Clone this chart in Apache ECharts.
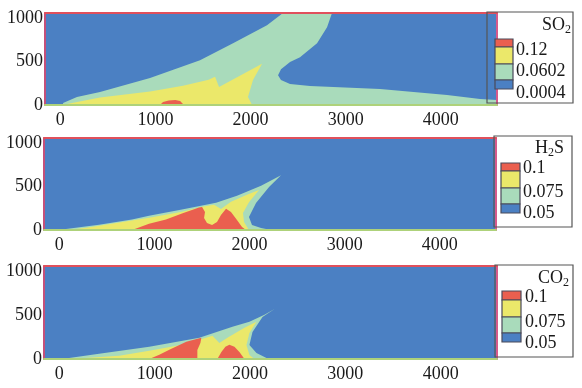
<!DOCTYPE html>
<html>
<head>
<meta charset="utf-8">
<script src="https://cdn.jsdelivr.net/npm/echarts@6/dist/echarts.min.js"></script>
<style>html,body{margin:0;padding:0;background:#fff}#c{width:582px;height:388px}</style>
</head>
<body>
<div id="c"></div>
<script>
// ---- axis ticks ----
const xTicks = [0, 1000, 2000, 3000, 4000];
const yTicks = [0, 500, 1000];
const xRange = [-160, 4590];
const yRange = [0, 1060];

// ---- SO2 contour boundaries [x, height] ----
const so2Green = [[30,0],[30,23],[176,92],[418,149],[944,310],[1469,517],[1816,712],[2173,918],[2341,1060],
  [2856,1060],[2804,895],[2699,712],[2520,551],[2415,494],[2320,413],[2289,344],[2320,287],[2415,241],
  [2625,218],[3361,184],[4065,115],[4412,69],[4590,57],[4590,0]];
const so2Yellow = [[50,0],[71,11],[418,85],[944,155],[1290,222],[1560,292],[1627,325],[1669,207],[2121,475],
  [2026,287],[1973,92],[2016,0]];
const so2Red = [[1049,0],[1080,34],[1140,52],[1210,57],[1260,46],[1300,0]];
const so2Levels = ['0.12', '0.0602', '0.0004'];

// ---- H2S ----
const h2sGreen = [[60,0],[71,11],[418,60],[765,120],[944,165],[1290,235],[1648,315],[1868,395],[2121,510],[2331,631],
  [2205,494],[2068,310],[1994,149],[2026,57],[2121,23],[2226,0]];
const h2sYellow = [[90,0],[282,25],[418,50],[944,142],[1290,210],[1501,268],[1627,290],[1700,241],[1805,325],
  [1973,405],[2100,462],[1994,321],[1931,195],[1942,92],[1994,0]];
const h2sRed = [[765,0],[944,72],[1122,120],[1290,190],[1469,258],[1501,266],[1532,207],[1522,138],[1553,80],
  [1606,57],[1658,92],[1700,172],[1753,245],[1805,207],[1868,115],[1921,34],[1963,0]];
const h2sLevels = ['0.1', '0.075', '0.05'];

// ---- CO2 ----
const co2Green = [[70,0],[103,11],[418,60],[944,140],[1469,242],[1816,368],[1994,425],[2152,505],[2257,570],
  [2131,479],[2026,308],[1994,160],[2068,68],[2173,11],[2200,0]];
const co2Yellow = [[105,0],[628,36],[944,94],[1290,163],[1469,220],[1606,265],[1679,182],[1763,242],[1942,356],
  [2068,425],[1994,296],[1963,160],[1994,46],[2047,0]];
const co2Red1 = [[944,0],[1049,48],[1154,106],[1332,198],[1490,242],[1480,182],[1448,103],[1448,0]];
const co2Red2 = [[1658,0],[1700,80],[1742,140],[1784,162],[1837,140],[1889,80],[1942,0]];
const co2Levels = ['0.1', '0.075', '0.05'];

const C = {blue:'#4b80c3', green:'#a9dbbb', yellow:'#ebe86a', red:'#ea5f4f'};
const FONT = 'Liberation Serif';
const FS = 18;

const grids = [
  {left:45, top:13, width:452, height:92},
  {left:44, top:138, width:452, height:92},
  {left:44, top:266, width:453, height:93}
];

const xAxes = [], yAxes = [];
grids.forEach((g, i) => {
  g.show = true; g.backgroundColor = C.blue; g.borderWidth = 0;
  xAxes.push({type:'value', gridIndex:i, min:xRange[0], max:xRange[1], position:'bottom', z:5,
    axisLine:{onZero:false, lineStyle:{color:'#aed27a', width:2}}, axisTick:{show:false}, splitLine:{show:false},
    axisLabel:{margin:6, fontFamily:FONT, fontSize:FS, color:'#1a1a1a',
      formatter: v => xTicks.includes(v) ? String(v) : ''}});
  xAxes.push({type:'value', gridIndex:i, min:xRange[0], max:xRange[1], position:'top', z:5,
    axisLine:{onZero:false, lineStyle:{color:'#e0505c', width:2}}, axisTick:{show:false}, splitLine:{show:false}, axisLabel:{show:false}});
  yAxes.push({type:'value', gridIndex:i, min:yRange[0], max:yRange[1], interval:500, position:'left', z:5,
    axisLine:{onZero:false, lineStyle:{color:'#c4507a', width:2}}, axisTick:{show:false}, splitLine:{show:false},
    axisLabel:{margin:2, fontFamily:FONT, fontSize:FS, color:'#1a1a1a',
      formatter: v => yTicks.includes(v) ? String(v) : ''}});
  yAxes.push({type:'value', gridIndex:i, min:yRange[0], max:yRange[1], position:'right', z:5,
    axisLine:{onZero:false, lineStyle:{color:'#d65a8c', width:2}}, axisTick:{show:false}, splitLine:{show:false}, axisLabel:{show:false}});
});

function poly(panel, pts, color) {
  return {type:'custom', xAxisIndex:panel*2, yAxisIndex:panel*2, clip:true, silent:true, data:pts,
    renderItem:(params, api) => {
      if (params.dataIndex !== 0) return null;
      return {type:'polygon', shape:{points: pts.map(p => api.coord(p))}, style:{fill:color}};
    }};
}

const series = [
  poly(0, so2Green, C.green), poly(0, so2Yellow, C.yellow), poly(0, so2Red, C.red),
  poly(1, h2sGreen, C.green), poly(1, h2sYellow, C.yellow), poly(1, h2sRed, C.red),
  poly(2, co2Green, C.green), poly(2, co2Yellow, C.yellow), poly(2, co2Red1, C.red), poly(2, co2Red2, C.red)
];

// ---- legends ----
function legend(box, sw, title, levels) {
  const els = [];
  els.push({type:'rect', shape:{x:box[0], y:box[1], width:box[2], height:box[3]},
    style:{fill:null, stroke:'#555', lineWidth:1.2}, z:20});
  const cols = [C.red, C.yellow, C.green, C.blue];
  let y = sw.y;
  sw.h.forEach((h, k) => {
    els.push({type:'rect', shape:{x:sw.x, y:y, width:sw.w, height:h},
      style:{fill:cols[k], stroke:'#4a4a5a', lineWidth:1.2}, z:21});
    y += h;
  });
  els.push({type:'text', x:title.x, y:title.y, z:22,
    style:{text:title.text, textAlign:'right', textVerticalAlign:'middle', fill:'#1a1a1a',
      rich:{a:{fontFamily:FONT, fontSize:FS, fill:'#1a1a1a'}, b:{fontFamily:FONT, fontSize:12, fill:'#1a1a1a', padding:[9,0,0,0]}}}});
  levels.forEach((t, k) => {
    els.push({type:'text', x:sw.lx, y:sw.ly[k], z:22,
      style:{text:t, textAlign:'left', textVerticalAlign:'middle', fontFamily:FONT, fontSize:FS, fill:'#1a1a1a'}});
  });
  return els;
}

const graphic = [].concat(
  legend([487,12,86,91], {x:495, y:39, w:18, h:[8,17,16,9], lx:516, ly:[50,71,93]}, {x:571, y:25, text:'{a|SO}{b|2}'}, so2Levels),
  legend([494,136,78,91], {x:501, y:163, w:19, h:[8,17,16,9], lx:523, ly:[168,192,213]}, {x:564, y:148, text:'{a|H}{b|2}{a|S}'}, h2sLevels),
  legend([495,265,78,92], {x:502, y:291, w:19, h:[9,17,16,9], lx:525, ly:[297,322,343]}, {x:569, y:278, text:'{a|CO}{b|2}'}, co2Levels)
);

const chart = echarts.init(document.getElementById('c'), null, {renderer:'canvas'});
chart.setOption({animation:false, grid:grids, xAxis:xAxes, yAxis:yAxes, series:series, graphic:graphic});
</script>
</body>
</html>
